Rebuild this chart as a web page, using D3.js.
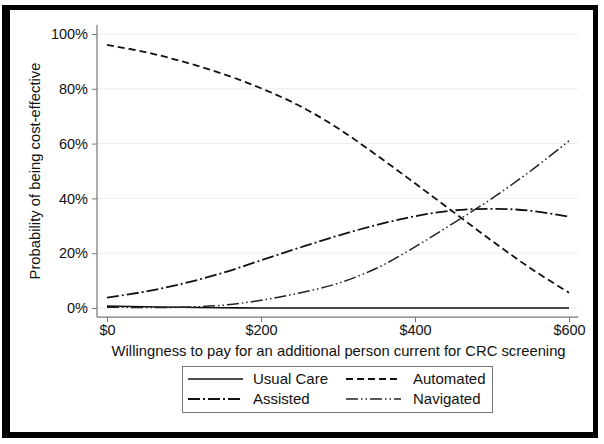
<!DOCTYPE html>
<html>
<head>
<meta charset="utf-8">
<script src="https://cdn.jsdelivr.net/npm/d3@7"></script>
<style>
  html, body { margin: 0; padding: 0; background: #fff; }
  svg { display: block; }
  text { font-family: "Liberation Sans", Arial, sans-serif; fill: #111; }
</style>
</head>
<body>
<script>
// ---- data ----
const wtp = [0, 50, 100, 150, 200, 250, 300, 350, 400, 450, 500, 550, 600];
const usualCare = [0.7, 0.45, 0.25, 0.1, 0, 0, 0, 0, 0, 0, 0, 0, 0];
const automated = [96, 93.4, 89.8, 85.5, 80.2, 73.8, 65.6, 55.8, 45.5, 35, 24.5, 14.5, 5.6];
const assisted  = [3.8, 6, 9, 12.8, 17.4, 22, 26.4, 30.3, 33.5, 35.6, 36.2, 35.5, 33.3];
const navigated = [0.3, 0.2, 0.3, 1, 2.8, 5.5, 9, 14.5, 22.3, 31, 40, 50, 61];
const yTicks = [0, 20, 40, 60, 80, 100];
const xTicks = [0, 200, 400, 600];
const seriesNames = ["Usual Care", "Automated", "Assisted", "Navigated"];

const W = 604, H = 444;
const svg = d3.select("body").append("svg").attr("width", W).attr("height", H);

// outer frame
const frame = svg.append("g").attr("fill", "#000");
frame.append("rect").attr("x", 2).attr("y", 5).attr("width", 8).attr("height", 433);
frame.append("rect").attr("x", 2).attr("y", 5).attr("width", 596).attr("height", 5);
frame.append("rect").attr("x", 593).attr("y", 5).attr("width", 5).attr("height", 433);
frame.append("rect").attr("x", 2).attr("y", 432).attr("width", 596).attr("height", 6);

const x = d3.scaleLinear().domain([0, 600]).range([107, 569]);
const y = d3.scaleLinear().domain([0, 100]).range([308, 34]);

// gridlines
svg.append("g").selectAll("line").data(yTicks).join("line")
  .attr("x1", x(-13)).attr("x2", x(612))
  .attr("y1", d => y(d)).attr("y2", d => y(d))
  .attr("stroke", "#e8eeee").attr("stroke-width", 1);

// axes
const yAxis = svg.append("g").attr("transform", `translate(${x(-13)},0)`)
  .call(d3.axisLeft(y).tickValues(yTicks).tickFormat(d => d + "%").tickSize(5).tickPadding(4));
yAxis.select(".domain").remove();
yAxis.append("line").attr("x1", 0).attr("x2", 0).attr("y1", y(103.3)).attr("y2", y(-3.3))
  .attr("stroke", "#777").attr("stroke-width", 1.2);

const xAxis = svg.append("g").attr("transform", `translate(0,${y(-3.3)})`)
  .call(d3.axisBottom(x).tickValues(xTicks).tickFormat(d => "$" + d).tickSize(5).tickPadding(3));
xAxis.select(".domain").remove();
xAxis.append("line").attr("x1", x(-13)).attr("x2", x(612)).attr("y1", 0).attr("y2", 0)
  .attr("stroke", "#777").attr("stroke-width", 1.2);

[yAxis, xAxis].forEach(a => {
  a.selectAll(".tick line").attr("stroke", "#777");
  a.selectAll(".tick text").attr("font-size", 14.5).attr("fill", "#111")
    .attr("font-family", "'Liberation Sans', Arial, sans-serif");
});

// axis titles
svg.append("text").attr("x", (x(-13) + x(612)) / 2 + 1).attr("y", 356)
  .attr("text-anchor", "middle").attr("font-size", 14.8)
  .text("Willingness to pay for an additional person current for CRC screening");
svg.append("text").attr("transform", `translate(40,${(y(103.3) + y(-3.3)) / 2}) rotate(-90)`)
  .attr("text-anchor", "middle").attr("font-size", 14.8)
  .text("Probability of being cost-effective");

// series
const styles = [
  { data: usualCare, dash: null, color: "#111", w: 1.6 },
  { data: automated, dash: "7,4", color: "#111", w: 1.8 },
  { data: assisted, dash: "12,3,2,3", color: "#111", w: 1.8 },
  { data: navigated, dash: "12,3,1.5,3,1.5,3", color: "#222", w: 1.5 }
];
const line = d3.line().x((d, i) => x(wtp[i])).y(d => y(d)).curve(d3.curveCatmullRom.alpha(0.5));
styles.forEach(s => {
  svg.append("path").datum(s.data).attr("d", line)
    .attr("fill", "none").attr("stroke", s.color).attr("stroke-width", s.w)
    .attr("stroke-dasharray", s.dash);
});

// legend
const lg = svg.append("g");
lg.append("rect").attr("x", 182.5).attr("y", 366.5).attr("width", 310).attr("height", 46)
  .attr("fill", "#fff").attr("stroke", "#777").attr("stroke-width", 1);
const pos = [
  { lx: 188, ly: 379, tx: 253 },
  { lx: 346, ly: 379, tx: 413 },
  { lx: 188, ly: 399, tx: 253 },
  { lx: 346, ly: 399, tx: 413 }
];
seriesNames.forEach((name, i) => {
  const p = pos[i], s = styles[i];
  lg.append("line").attr("x1", p.lx).attr("x2", p.lx + 55).attr("y1", p.ly).attr("y2", p.ly)
    .attr("stroke", s.color).attr("stroke-width", s.w).attr("stroke-dasharray", s.dash);
  lg.append("text").attr("x", p.tx).attr("y", p.ly + 5).attr("font-size", 15).text(name);
});
</script>
</body>
</html>
